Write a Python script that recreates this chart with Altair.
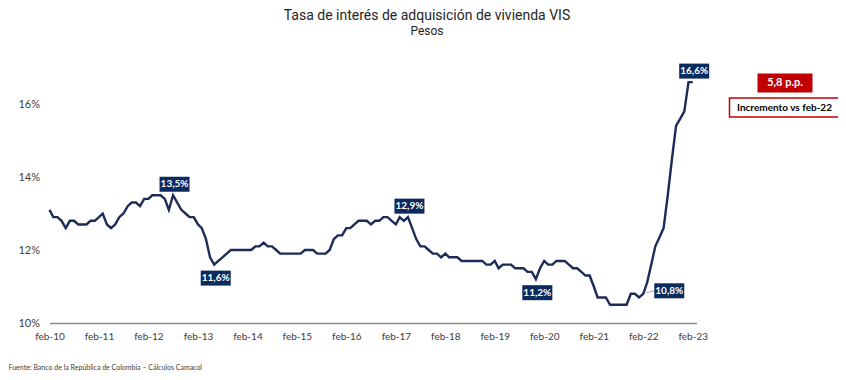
import altair as alt
import pandas as pd

# ---- data (monthly, feb-10 .. feb-23) ----
start_month = "2010-02-01"
rates = [
    13.1, 12.9, 12.9, 12.8, 12.6, 12.8, 12.8, 12.7, 12.7, 12.7, 12.8, 12.8,   # feb-10..jan-11
    12.9, 13.0, 12.7, 12.6, 12.7, 12.9, 13.0, 13.2, 13.3, 13.3, 13.2, 13.4,   # feb-11..jan-12
    13.4, 13.5, 13.5, 13.5, 13.4, 13.1, 13.5, 13.3, 13.1, 13.0, 12.9, 12.9,   # feb-12..jan-13
    12.7, 12.6, 12.3, 11.8, 11.6, 11.7, 11.8, 11.9, 12.0, 12.0, 12.0, 12.0,   # feb-13..jan-14
    12.0, 12.0, 12.1, 12.1, 12.2, 12.1, 12.1, 12.0, 11.9, 11.9, 11.9, 11.9,   # feb-14..jan-15
    11.9, 11.9, 12.0, 12.0, 12.0, 11.9, 11.9, 11.9, 12.0, 12.3, 12.4, 12.4,   # feb-15..jan-16
    12.6, 12.6, 12.7, 12.8, 12.8, 12.8, 12.7, 12.8, 12.8, 12.9, 12.9, 12.8,   # feb-16..jan-17
    12.7, 12.9, 12.8, 12.9, 12.6, 12.3, 12.1, 12.1, 12.0, 11.9, 11.9, 11.8,   # feb-17..jan-18
    11.9, 11.8, 11.8, 11.8, 11.7, 11.7, 11.7, 11.7, 11.7, 11.7, 11.6, 11.6,   # feb-18..jan-19
    11.7, 11.5, 11.6, 11.6, 11.6, 11.5, 11.5, 11.5, 11.4, 11.4, 11.2, 11.5,   # feb-19..jan-20
    11.7, 11.6, 11.6, 11.7, 11.7, 11.7, 11.6, 11.5, 11.5, 11.4, 11.3, 11.3,   # feb-20..jan-21
    11.0, 10.7, 10.7, 10.7, 10.5, 10.5, 10.5, 10.5, 10.5, 10.8, 10.8, 10.7,   # feb-21..jan-22
    10.8, 11.1, 11.6, 12.1, 12.35, 12.6, 13.5, 14.5, 15.4, 15.6, 15.8, 16.6,  # feb-22..jan-23
    16.6,                                                                     # feb-23
]
tick_years = list(range(2010, 2024))
y_ticks = [10, 12, 14, 16]

labels_above = ["2012-08-01", "2017-05-01", "2023-02-01"]
labels_below = ["2013-06-01", "2019-12-01"]
labels_side = ["2022-02-01"]

callout_value = ["5,8 p.p."]
callout_caption = ["Incremento vs feb-22"]

title_text = "Tasa de interés de adquisición de vivienda VIS"
subtitle_text = "Pesos"
source_text = "Fuente: Banco de la República de Colombia – Cálculos Camacol"

# ---- tables ----
dates = pd.date_range(start_month, periods=len(rates), freq="MS")
df = pd.DataFrame({"fecha": dates, "tasa": rates})


def ann_table(date_list):
    d = df[df["fecha"].isin(pd.to_datetime(date_list))].copy()
    d["txt"] = d["tasa"].map(lambda v: f"{v:.1f}".replace(".", ",") + "%")
    return d


df_above = ann_table(labels_above)
df_below = ann_table(labels_below)
df_side = ann_table(labels_side)

NAVY_LINE = "#1d2b59"
NAVY_BOX = "#0b2a5e"
RED = "#c00000"
FONT = "Lato"

x_scale = alt.Scale(
    domain=[alt.DateTime(year=2010, month=2, date=1), alt.DateTime(year=2023, month=3, date=1)]
)
y_scale = alt.Scale(domain=[10, 17], nice=False, zero=False)

x_axis = alt.Axis(
    values=[alt.DateTime(year=y, month=2, date=1) for y in tick_years],
    labelExpr="'feb-' + timeFormat(datum.value, '%y')",
    grid=False, ticks=False, tickSize=0,
    domainColor="#8c8c8c", domainWidth=1.5,
    labelFont=FONT, labelFontSize=10, labelColor="#404040", labelPadding=8,
    labelAngle=0, labelFlush=False, labelOverlap=False,
    title=source_text, titleFont=FONT, titleFontSize=7, titleFontWeight="normal",
    titleColor="#404040", titleX=-41.5, titleY=44, titleAlign="left",
    titleBaseline="middle", titleAnchor="start",
)
y_axis = alt.Axis(
    values=y_ticks, labelExpr="datum.value + '%'",
    grid=False, ticks=False, tickSize=0, domain=False,
    labelFont=FONT, labelFontSize=11, labelColor="#404040", labelPadding=10,
    labelFlush=False,
    title=None,
)

X = alt.X("fecha:T", scale=x_scale, axis=x_axis)
Y = alt.Y("tasa:Q", scale=y_scale, axis=y_axis)

line = alt.Chart(df).mark_line(color=NAVY_LINE, strokeWidth=2.4).encode(x=X, y=Y)


def boxes(d, dx, dy):
    rect = alt.Chart(d).mark_rect(
        color=NAVY_BOX, width=30, height=15, xOffset=dx, yOffset=dy
    ).encode(x=X, y=Y)
    txt = alt.Chart(d).mark_text(
        color="white", font=FONT, fontWeight="bold", fontSize=10,
        dx=dx, dy=dy, align="center", baseline="middle"
    ).encode(x=X, y=Y, text="txt:N")
    return rect + txt


above = boxes(df_above, 1.5, -11)
below = boxes(df_below, 1.5, 13.5)
side = boxes(df_side, 26, -3)

leader = alt.Chart(df_side).mark_rule(
    color="#a6a6a6", strokeWidth=1, xOffset=3, x2Offset=11, yOffset=-1, y2Offset=-3
).encode(x=X, x2="fecha:T", y=Y, y2="tasa:Q")

df_callout = pd.DataFrame({"v": callout_value, "c": callout_caption})
red_box = alt.Chart(df_callout).mark_rect(color=RED, width=55, height=19).encode(
    x=alt.value(735.5), y=alt.value(15.5)
)
red_txt = alt.Chart(df_callout).mark_text(
    color="white", font=FONT, fontWeight="bold", fontSize=11, baseline="middle"
).encode(x=alt.value(735.5), y=alt.value(15.5), text="v:N")
cap_box = alt.Chart(df_callout).mark_rect(
    fill="white", stroke=RED, strokeWidth=1.5, width=110, height=19
).encode(x=alt.value(735), y=alt.value(40))
cap_txt = alt.Chart(df_callout).mark_text(
    color="black", font=FONT, fontWeight="bold", fontSize=10, baseline="middle"
).encode(x=alt.value(735), y=alt.value(40), text="c:N")

chart = alt.layer(
    line, leader, above, below, side, red_box, red_txt, cap_box, cap_txt
).properties(
    width=647,
    height=255.5,
    autosize=alt.AutoSizeParams(type="none"),
    padding={"left": 41.5, "top": 59.5, "right": 141.5, "bottom": 49},
    title=alt.TitleParams(
        text=title_text, subtitle=subtitle_text, anchor="middle", dx=54, offset=27,
        font="Roboto", fontSize=14,
        fontWeight="normal", color="#262626",
        subtitleFont="Roboto",
        subtitleFontSize=12, subtitleColor="#262626", subtitlePadding=3,
    ),
).configure_view(stroke=None)

chart.save("out.html", embed_options={"renderer": "svg", "actions": False})
